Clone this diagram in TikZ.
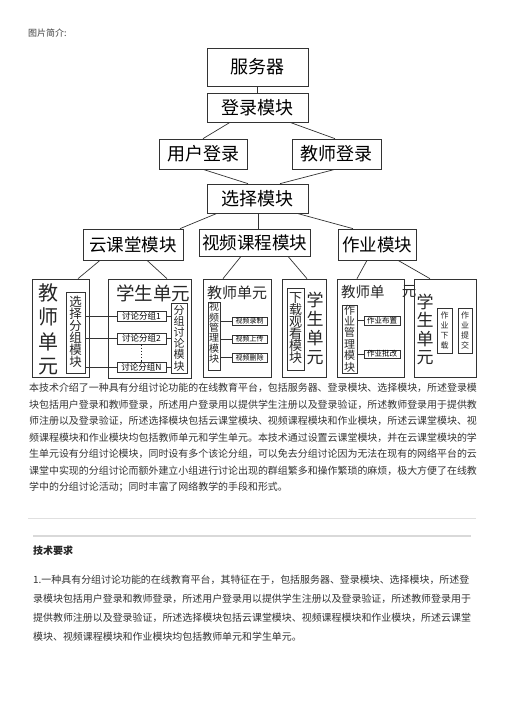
\documentclass[tikz,border=0pt]{standalone}
\usepackage{fontspec}
\setmainfont{Noto Sans CJK SC}
\newcommand\fsz[1]{\fontsize{#1}{#1}\selectfont}
\newcommand\vfs[2]{\fontsize{#1}{#2}\selectfont}
\begin{document}
\begin{tikzpicture}[x=1pt,y=-1pt,
  box/.style 2 args={draw=black!80, line width=0.7pt, inner sep=0pt, minimum width=#1, minimum height=#2},
  lbl/.style={inner sep=0pt, text=black!85},
  vlbl/.style={inner sep=0pt, text=black!85, align=center},
  ln/.style={draw=black!80, line width=0.7pt},
  para/.style={inner sep=0pt, anchor=west, text=black!80, font=\fsz{9.95}}]
\useasboundingbox[fill=white] (0,0) rectangle (504,713);

\node[lbl, anchor=west, font=\fsz{9}, text=black!75] (title) at (28,33) {图片简介:};

% top chain
\node[box={101}{38}, font=\fsz{18}] (srv) at (257.5,67) {服务器};
\node[box={101}{29}, font=\fsz{18}] (login) at (257.5,107.5) {登录模块};
\node[box={88}{30}, font=\fsz{18}] (user) at (203,154) {用户登录};
\node[box={89}{30}, font=\fsz{18}] (teach) at (336.5,154) {教师登录};
\node[box={101}{29}, font=\fsz{18}] (sel) at (257.5,198.5) {选择模块};
\node[box={100}{31}, font=\fsz{17.5}] (cloud) at (133,244.5) {云课堂模块};
\node[box={111}{27}, font=\fsz{17.5}] (video) at (254.5,242.5) {视频课程模块};
\node[box={78}{31}, font=\fsz{17.5}] (hw) at (377,244.5) {作业模块};

\draw[ln] (srv) -- (login);
\draw[ln] ([xshift=-27.5]login.south) -- (user.north);
\draw[ln] ([xshift=32.5]login.south) -- ([xshift=-1.5]teach.north);
\draw[ln] (user.south) -- ([xshift=-9.5]sel.north);
\draw[ln] ([xshift=-1.5]teach.south) -- ([xshift=22.5]sel.north);
\draw[ln] ([xshift=-40.5]sel.south) -- ([xshift=47]cloud.north);
\draw[ln] ([xshift=0.5]sel.south) -- ([xshift=3.5]video.north);
\draw[ln] ([xshift=39.5]sel.south) -- ([xshift=-24]hw.north);

% cloud classroom units
\node[box={57}{98}] (t1) at (60.5,328) {};
\node[vlbl, font=\vfs{20}{24.5}] (t1t) at (48,329.5) {教\\师\\单\\元};
\node[box={19}{81}] (sg) at (75.5,332.5) {};
\node[vlbl, font=\vfs{12.5}{12}] (sgt) at (75.5,332) {选\\择\\分\\组\\模\\块};
\node[box={83}{99}] (s1) at (149.5,328.5) {};
\node[lbl, font=\fsz{18.5}] (s1t) at (153,293) {学生单元};
\node[box={49}{10}, font=\fsz{8.5}] (g1) at (141.5,316) {讨论分组1};
\node[box={49}{11}, font=\fsz{8.5}] (g2) at (141.5,338.5) {讨论分组2};
\node[box={49}{10}, font=\fsz{8.5}] (gN) at (141.5,367) {讨论分组N};
\node[box={16}{70}] (gm) at (179,338) {};
\node[vlbl, font=\vfs{11}{11.2}] (gmt) at (179,338) {分\\组\\讨\\论\\模\\块};
\foreach \g in {g1,g2,gN} {
  \draw[ln] (sg.east |- \g.west) -- (\g.west);
  \draw[ln] (\g.east) -- (gm.west |- \g.east);
}
\draw[draw=black!85, line width=1.2pt, dotted] (g2.south) -- (gN.north);
\draw[ln] ([xshift=-33]cloud.south) -- ([xshift=17.5]t1.north);
\draw[ln] ([xshift=14]cloud.south) -- ([xshift=17.5]s1.north);

% video course units
\node[box={68}{98}] (t2) at (237,328) {};
\node[lbl, font=\fsz{15}] (t2t) at (237,293) {教师单元};
\node[box={12}{68}] (vm) at (214,336) {};
\node[vlbl, font=\vfs{10}{10.4}] (vmt) at (214,333) {视\\频\\管\\理\\模\\块};
\node[box={35}{8}, font=\fsz{7}] (v1) at (249.5,321) {视频录制};
\node[box={35}{8}, font=\fsz{7}] (v2) at (249.5,339) {视频上传};
\node[box={35}{9}, font=\fsz{7}] (v3) at (249.5,357.5) {视频删除};
\foreach \v in {v1,v2,v3} { \draw[ln] (vm.east |- \v.west) -- (\v.west); }
\node[box={44}{98}] (s2) at (304,328) {};
\node[box={17}{82}] (dl) at (295.5,329) {};
\node[vlbl, font=\vfs{13}{12}] (dlt) at (295.5,328) {下\\载\\观\\看\\模\\块};
\node[vlbl, font=\vfs{17}{19}] (s2t) at (315,328.5) {学\\生\\单\\元};
\draw[ln] ([xshift=-13.5]video.south) -- ([xshift=-14]t2.north);
\draw[ln] ([xshift=33.5]video.south) -- ([xshift=3]s2.north);

% homework units
\node[box={67}{98}] (t3) at (370.5,328) {};
\node[lbl, font=\fsz{14.5}, anchor=west] (t3t) at (341,292) {教师单};
\node[lbl, font=\fsz{14.5}] (t3u) at (409,292) {元};
\node[box={15}{68}] (hm) at (349.5,339) {};
\node[vlbl, font=\vfs{11}{11.4}] (hmt) at (349.5,338.5) {作\\业\\管\\理\\模\\块};
\node[box={36}{9}, font=\fsz{7.5}] (h1) at (382,320.5) {作业布置};
\node[box={36}{8}, font=\fsz{7.5}] (h2) at (382,354) {作业批改};
\foreach \h in {h1,h2} { \draw[ln] (hm.east |- \h.west) -- (\h.west); }
\node[box={62}{98}] (s3) at (445,328) {};
\node[vlbl, font=\vfs{17}{18.3}] (s3t) at (425,329.5) {学\\生\\单\\元};
\node[box={15}{45}] (d1) at (444.5,330.5) {};
\node[vlbl, font=\vfs{8}{10}] (d1t) at (444.5,330.5) {作\\业\\下\\载};
\node[box={14}{45}] (d2) at (465,330.5) {};
\node[vlbl, font=\vfs{8}{10}] (d2t) at (465,330.5) {作\\业\\提\\交};
\draw[ln] ([xshift=-10]hw.south) -- ([xshift=-13.5]t3.north);
\draw[ln] ([xshift=21]hw.south) -- ([xshift=-15]s3.north);

% paragraph 1
\node[para] (p1) at (29,388) {本技术介绍了一种具有分组讨论功能的在线教育平台，包括服务器、登录模块、选择模块，所述登录模};
\node[para] (p2) at (29,404.5) {块包括用户登录和教师登录，所述用户登录用以提供学生注册以及登录验证，所述教师登录用于提供教};
\node[para] (p3) at (29,421) {师注册以及登录验证，所述选择模块包括云课堂模块、视频课程模块和作业模块，所述云课堂模块、视};
\node[para] (p4) at (29,437.5) {频课程模块和作业模块均包括教师单元和学生单元。本技术通过设置云课堂模块，并在云课堂模块的学};
\node[para] (p5) at (29,454) {生单元设有分组讨论模块，同时设有多个该论分组，可以免去分组讨论因为无法在现有的网络平台的云};
\node[para] (p6) at (29,470.5) {课堂中实现的分组讨论而额外建立小组进行讨论出现的群组繁多和操作繁琐的麻烦，极大方便了在线教};
\node[para] (p7) at (29,487) {学中的分组讨论活动；同时丰富了网络教学的手段和形式。};

\draw[draw=black!12, line width=0.6pt] (28,518) -- (476,518);
\draw[draw=black!15, line width=1.5pt] (33,536) -- (471,536);

\node[para, font=\bfseries\fsz{10}, text=black!85] (req) at (33,551) {技术要求};
\node[para] (q1) at (33,580) {1.一种具有分组讨论功能的在线教育平台，其特征在于，包括服务器、登录模块、选择模块，所述登};
\node[para] (q2) at (33,599) {录模块包括用户登录和教师登录，所述用户登录用以提供学生注册以及登录验证，所述教师登录用于};
\node[para] (q3) at (33,618) {提供教师注册以及登录验证，所述选择模块包括云课堂模块、视频课程模块和作业模块，所述云课堂};
\node[para] (q4) at (33,637) {模块、视频课程模块和作业模块均包括教师单元和学生单元。};
\end{tikzpicture}
\end{document}
